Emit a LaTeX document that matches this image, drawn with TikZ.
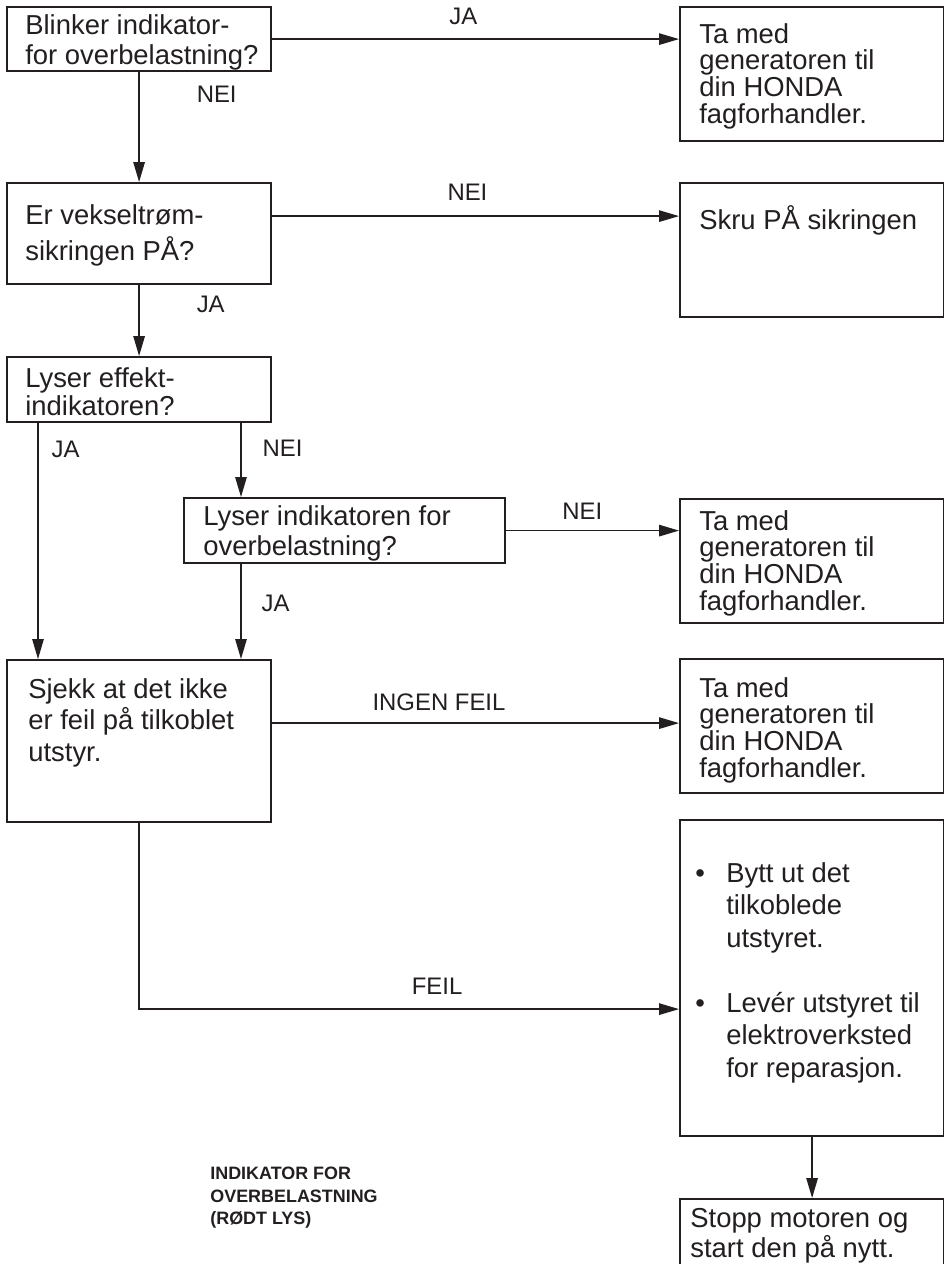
\documentclass[tikz,border=0pt]{standalone}
\usepackage{fontspec}
\setmainfont{Liberation Sans}
\usepackage{tikz}
\usetikzlibrary{arrows.meta, positioning}
\definecolor{ink}{HTML}{231F20}
\newcommand{\txtsize}[1]{\fontsize{15.6}{#1}\selectfont}
\newcommand{\bulletmark}{\makebox[0.62cm][l]{\textbullet}}
\newcommand{\bulletgap}{\hspace*{0.62cm}}

\begin{document}
\begin{tikzpicture}[
    box/.style={draw=ink, line width=1.25pt, anchor=north west, inner sep=0pt},
    txt/.style={text=ink, inner sep=0pt, align=left, font=\txtsize{17.1}},
    lbl/.style={text=ink, inner sep=0pt, font=\fontsize{13.6}{16}\selectfont},
    flow/.style={draw=ink, line width=0.75pt, -{Triangle[length=0.40cm, width=0.23cm]}}
  ]
    \fill[white] (0,0) rectangle (18.88,-25.28);
    \useasboundingbox (0,0) rectangle (18.88,-25.28);

    % left column
    \node[box, minimum width=5.28cm, minimum height=1.28cm] (blink) at (0.12,-0.12) {};
    \node[txt, below right=0.16cm and 0.38cm of blink.north west] (blinktxt) {Blinker indikator-\\for overbelastning?};
    \node[box, minimum width=5.28cm, minimum height=2.02cm] (fuse) at (0.12,-3.64) {};
    \node[txt, font=\txtsize{20.8}, below right=0.44cm and 0.38cm of fuse.north west] (fusetxt) {Er vekseltrøm-\\sikringen PÅ?};
    \node[box, minimum width=5.28cm, minimum height=1.30cm] (power) at (0.12,-7.12) {};
    \node[txt, font=\txtsize{15.9}, below right=0.22cm and 0.38cm of power.north west] (powertxt) {Lyser effekt-\\indikatoren?};
    \node[box, minimum width=6.42cm, minimum height=1.30cm] (overload) at (3.66,-9.94) {};
    \node[txt, below right=0.16cm and 0.40cm of overload.north west] (overloadtxt) {Lyser indikatoren for\\overbelastning?};
    \node[box, minimum width=5.28cm, minimum height=3.24cm] (check) at (0.12,-13.18) {};
    \node[txt, font=\txtsize{17.9}, below right=0.38cm and 0.44cm of check.north west] (checktxt) {Sjekk at det ikke\\er feil på tilkoblet\\utstyr.};

    % right column
    \foreach \name/\y/\h/\dy in {dealerA/-0.12/2.68/0.34, dealerB/-9.96/2.48/0.24, dealerC/-13.16/2.68/0.38} {
      \node[box, minimum width=5.28cm, minimum height=\h cm] (\name) at (13.58,\y) {};
      \node[txt, font=\txtsize{15.2}, below right=\dy cm and 0.40cm of \name.north west] (\name txt) {Ta med\\generatoren til\\din HONDA\\fagforhandler.};
    }
    \node[box, minimum width=5.28cm, minimum height=2.68cm] (fuseon) at (13.58,-3.64) {};
    \node[txt, below right=0.46cm and 0.40cm of fuseon.north west] (fuseontxt) {Skru PÅ sikringen};
    \node[box, minimum width=5.28cm, minimum height=6.32cm] (replace) at (13.58,-16.38) {};
    \node[txt, font=\txtsize{18.5}, below right=0.86cm and 0.32cm of replace.north west] (replacetxt) {\bulletmark Bytt ut det\\\bulletgap tilkoblede\\\bulletgap utstyret.\\[18.5pt]\bulletmark Levér utstyret til\\\bulletgap elektroverksted\\\bulletgap for reparasjon.};
    \node[box, minimum width=5.28cm, minimum height=1.70cm] (restart) at (13.58,-23.96) {};
    \node[txt, below right=0.20cm and 0.22cm of restart.north west] (restarttxt) {Stopp motoren og\\start den på nytt.};

    \node[txt, anchor=north west, font=\bfseries\fontsize{10.2}{12.8}\selectfont] (legend) at (4.20,-23.34) {INDIKATOR FOR\\OVERBELASTNING\\(RØDT LYS)};

    % connectors
    \coordinate (jaline) at ([xshift=0.64cm]power.south west);
    \coordinate (neiline) at ([xshift=4.70cm]power.south west);
    \draw[flow] (blink.east) -- (blink.east -| dealerA.west) node[lbl, pos=0.47, above=0.28cm] (ja1) {JA};
    \draw[flow] (blink) -- (fuse) node[lbl, pos=0.2, right=1.14cm] (nei1) {NEI};
    \draw[flow] ([yshift=0.35cm]fuse.east) -- ([yshift=0.35cm]fuse.east -| fuseon.west) node[lbl, pos=0.48, above=0.3cm] (nei2) {NEI};
    \draw[flow] (fuse) -- (power) node[lbl, pos=0.27, right=1.14cm] (ja2) {JA};
    \draw[flow] (jaline) -- (jaline |- check.north) node[lbl, pos=0.11, right=0.26cm] (ja3) {JA};
    \draw[flow] (neiline) -- (neiline |- overload.north) node[lbl, pos=0.34, right=0.42cm] (nei3) {NEI};
    \draw[flow] (neiline |- overload.south) -- (neiline |- check.north) node[lbl, pos=0.41, right=0.40cm] (ja4) {JA};
    \draw[flow] (overload.east) -- (overload.east -| dealerB.west) node[lbl, pos=0.44, above=0.2cm] (nei4) {NEI};
    \draw[flow] ([yshift=0.36cm]check.east) -- ([yshift=0.36cm]check.east -| dealerC.west) node[lbl, pos=0.41, above=0.24cm] (nofault) {INGEN FEIL};
    \draw[flow] (check.south) |- ([yshift=-0.62cm]replace.west) node[lbl, pos=0.776, above=0.28cm] (fault) {FEIL};
    \draw[flow] (replace) -- (restart);
  \end{tikzpicture}
\end{document}
